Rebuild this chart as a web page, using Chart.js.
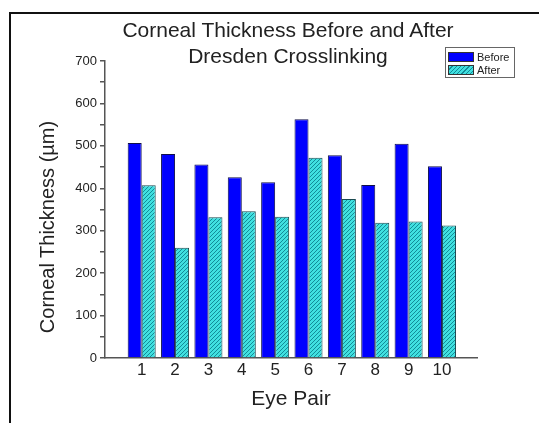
<!DOCTYPE html>
<html>
<head>
<meta charset="utf-8">
<script src="https://cdn.jsdelivr.net/npm/chart.js@4.4.0/dist/chart.umd.min.js"></script>
<style>
  html, body { margin: 0; padding: 0; background: #fff; }
  body { width: 539px; height: 423px; position: relative; overflow: hidden; font-family: Arial, "Liberation Sans", sans-serif; }
  #frame { position: absolute; left: 9px; top: 12px; width: 560px; height: 440px; border: 2px solid #111; box-sizing: border-box; }
  #wrap { position: absolute; left: 10px; top: 13px; width: 529px; height: 410px; }
  #title { position: absolute; left: 8px; width: 560px; top: 17px; text-align: center; font-size: 21px; line-height: 26px; color: #222; white-space: nowrap; }
  #ytitle { position: absolute; left: -83px; top: 215px; width: 260px; height: 24px; line-height: 24px; text-align: center; font-size: 20px; color: #222; transform: rotate(-90deg); white-space: nowrap; }
  #legend { position: absolute; left: 445px; top: 47px; width: 70px; height: 31px; border: 1px solid #666; background: #fff; box-sizing: border-box; font-size: 11px; color: #222; }
  .row { position: absolute; left: 2px; height: 12px; line-height: 12px; white-space: nowrap; }
  .sw { display: inline-block; width: 26px; height: 10px; border: 1px solid #333; box-sizing: border-box; vertical-align: top; margin-top: 1px; margin-right: 3px; }
</style>
</head>
<body>
<div id="frame"></div>
<div id="wrap"><canvas id="chart" width="529" height="410"></canvas></div>
<div id="title">Corneal Thickness Before and After<br>Dresden Crosslinking</div>
<div id="ytitle">Corneal Thickness (µm)</div>
<div id="legend">
  <div class="row" style="top:3px"><span class="sw" style="background:#0000ff"></span>Before</div>
  <div class="row" style="top:16px"><span class="sw" style="background:repeating-linear-gradient(135deg,#40e0e0 0 2px,#128c98 2px 3px)"></span>After</div>
</div>
<script>
// Eye pairs and corneal thickness (um)
const eyePairs = [1, 2, 3, 4, 5, 6, 7, 8, 9, 10];
const before = [507, 481, 456, 426, 414, 563, 478, 408, 505, 452];
const after = [407, 260, 332, 346, 333, 472, 375, 319, 322, 312];
const yTicks = [0, 50, 100, 150, 200, 250, 300, 350, 400, 450, 500, 550, 600, 650, 700];

function hatch() {
  const c = document.createElement('canvas');
  c.width = 4; c.height = 4;
  const g = c.getContext('2d');
  g.fillStyle = '#40e0e0';
  g.fillRect(0, 0, 4, 4);
  g.strokeStyle = '#128c98';
  g.lineWidth = 1;
  g.beginPath();
  g.moveTo(0, 4); g.lineTo(4, 0);
  g.moveTo(-1, 1); g.lineTo(1, -1);
  g.moveTo(3, 5); g.lineTo(5, 3);
  g.stroke();
  return g.createPattern(c, 'repeat');
}

const ctx = document.getElementById('chart').getContext('2d');
new Chart(ctx, {
  type: 'bar',
  data: {
    datasets: [{
      label: 'Before',
      data: eyePairs.map((p, i) => ({ x: p, y: before[i] })),
      backgroundColor: '#0000ff',
      borderColor: '#10104a',
      borderWidth: 1,
      barPercentage: 1.0,
      categoryPercentage: 0.84
    }, {
      label: 'After',
      data: eyePairs.map((p, i) => ({ x: p, y: after[i] })),
      backgroundColor: hatch(),
      borderColor: '#1a4a50',
      borderWidth: 1,
      barPercentage: 1.0,
      categoryPercentage: 0.84
    }]
  },
  options: {
    responsive: false,
    animation: false,
    layout: { padding: { left: 0, right: 62, top: 48, bottom: 0 } },
    plugins: { legend: { display: false }, title: { display: false }, tooltip: { enabled: false } },
    scales: {
      x: {
        type: 'linear',
        min: -0.1,
        max: 11.05,
        offset: false,
        afterBuildTicks: s => { s.ticks = eyePairs.map(v => ({ value: v })); },
        afterFit: s => { s.height = 65; },
        grid: { display: false, drawTicks: false },
        border: { display: true, color: '#555', width: 1.5 },
        ticks: { color: '#222', font: { family: 'Arial', size: 17 }, padding: 2, callback: v => String(v) },
        title: { display: true, text: 'Eye Pair', color: '#222', font: { family: 'Arial', size: 21 }, padding: { top: 0, bottom: 11 } }
      },
      y: {
        min: 0,
        max: 700,
        afterBuildTicks: s => { s.ticks = yTicks.map(v => ({ value: v })); },
        afterFit: s => { s.width = 95; },
        grid: { drawOnChartArea: false, drawTicks: true, tickLength: 5, color: '#555', lineWidth: 1.5 },
        border: { display: true, color: '#555', width: 1.5 },
        ticks: { color: '#222', font: { family: 'Arial', size: 13 }, padding: 3, callback: v => (v % 100 === 0 ? String(v) : '') }
      }
    }
  }
});
</script>
</body>
</html>
